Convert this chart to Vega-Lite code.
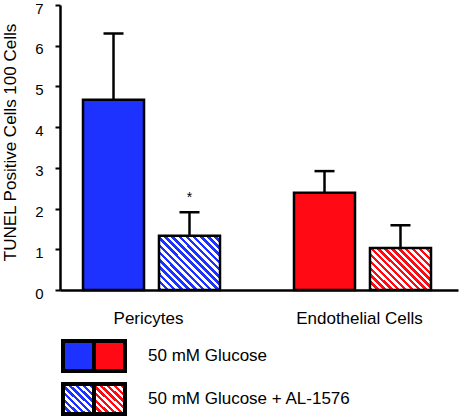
{
  "$schema": "https://vega.github.io/schema/vega-lite/v6.json",
  "autosize": {"type": "none"},
  "padding": {"left": 60, "top": 5, "right": 2, "bottom": 126},
  "width": 398,
  "height": 285,
  "datasets": {
    "bars": [
      {"cell": "Pericytes", "treatment": "50 mM Glucose", "mean": 4.67, "upper": 6.3, "note": ""},
      {"cell": "Pericytes", "treatment": "50 mM Glucose + AL-1576", "mean": 1.33, "upper": 1.91, "note": "*"},
      {"cell": "Endothelial Cells", "treatment": "50 mM Glucose", "mean": 2.39, "upper": 2.92, "note": ""},
      {"cell": "Endothelial Cells", "treatment": "50 mM Glucose + AL-1576", "mean": 1.03, "upper": 1.59, "note": ""}
    ]
  },
  "data": {"name": "bars"},
  "config": {
    "view": {"stroke": null},
    "font": "Liberation Sans",
    "axis": {"grid": false}
  },
  "resolve": {"scale": {"x": "independent", "y": "independent"}},
  "layer": [
    {
      "encoding": {
        "x": {
          "field": "cell", "type": "nominal", "sort": ["Pericytes", "Endothelial Cells"],
          "scale": {"paddingInner": 0.3507, "paddingOuter": 0.1185, "align": 0.46},
          "axis": {"title": null, "labelAngle": 0, "ticks": false, "labelPadding": 20, "labelFontSize": 17, "labelColor": "black", "labelOffset": -3, "domainColor": "black", "domainWidth": 2.5}
        },
        "xOffset": {
          "field": "treatment", "type": "nominal", "sort": ["50 mM Glucose", "50 mM Glucose + AL-1576"],
          "scale": {"paddingInner": 0.197, "paddingOuter": 0}
        },
        "y": {
          "field": "mean", "type": "quantitative", "title": "TUNEL Positive Cells 100 Cells",
          "scale": {"domain": [0, 7], "nice": false},
          "axis": {"values": [0, 1, 2, 3, 4, 5, 6, 7], "format": "d", "tickSize": 5, "tickWidth": 2, "tickColor": "black", "domainColor": "black", "domainWidth": 2.5, "labelFontSize": 15, "labelColor": "black", "labelPadding": 12, "labelOffset": 3, "titleFontSize": 17, "titleFontWeight": "normal", "titleColor": "black", "titleX": -50, "titleY": 137, "titleBaseline": "middle"}
        }
      },
      "layer": [
        {
          "transform": [{"filter": "datum.treatment == '50 mM Glucose'"}],
          "mark": {"type": "bar", "stroke": "black", "strokeWidth": 2.5},
          "encoding": {
            "color": {"field": "cell", "type": "nominal", "scale": {"domain": ["Pericytes", "Endothelial Cells"], "range": ["#1E32FF", "#FF0A14"]}, "legend": null}
          }
        },
        {
          "transform": [{"filter": "datum.treatment != '50 mM Glucose' && datum.cell == 'Pericytes'"}],
          "mark": {"type": "bar", "stroke": "black", "strokeWidth": 2.5,
            "fill": {"gradient": "linear", "x1": 0, "y1": 1, "x2": 1.057, "y2": 0.064, "stops": [
              {"offset": 0, "color": "#1E32FF"}, {"offset": 0.03125, "color": "#1E32FF"}, {"offset": 0.03125, "color": "#ffffff"}, {"offset": 0.0625, "color": "#ffffff"},
              {"offset": 0.0625, "color": "#1E32FF"}, {"offset": 0.09375, "color": "#1E32FF"}, {"offset": 0.09375, "color": "#ffffff"}, {"offset": 0.125, "color": "#ffffff"},
              {"offset": 0.125, "color": "#1E32FF"}, {"offset": 0.15625, "color": "#1E32FF"}, {"offset": 0.15625, "color": "#ffffff"}, {"offset": 0.1875, "color": "#ffffff"},
              {"offset": 0.1875, "color": "#1E32FF"}, {"offset": 0.21875, "color": "#1E32FF"}, {"offset": 0.21875, "color": "#ffffff"}, {"offset": 0.25, "color": "#ffffff"},
              {"offset": 0.25, "color": "#1E32FF"}, {"offset": 0.28125, "color": "#1E32FF"}, {"offset": 0.28125, "color": "#ffffff"}, {"offset": 0.3125, "color": "#ffffff"},
              {"offset": 0.3125, "color": "#1E32FF"}, {"offset": 0.34375, "color": "#1E32FF"}, {"offset": 0.34375, "color": "#ffffff"}, {"offset": 0.375, "color": "#ffffff"},
              {"offset": 0.375, "color": "#1E32FF"}, {"offset": 0.40625, "color": "#1E32FF"}, {"offset": 0.40625, "color": "#ffffff"}, {"offset": 0.4375, "color": "#ffffff"},
              {"offset": 0.4375, "color": "#1E32FF"}, {"offset": 0.46875, "color": "#1E32FF"}, {"offset": 0.46875, "color": "#ffffff"}, {"offset": 0.5, "color": "#ffffff"},
              {"offset": 0.5, "color": "#1E32FF"}, {"offset": 0.53125, "color": "#1E32FF"}, {"offset": 0.53125, "color": "#ffffff"}, {"offset": 0.5625, "color": "#ffffff"},
              {"offset": 0.5625, "color": "#1E32FF"}, {"offset": 0.59375, "color": "#1E32FF"}, {"offset": 0.59375, "color": "#ffffff"}, {"offset": 0.625, "color": "#ffffff"},
              {"offset": 0.625, "color": "#1E32FF"}, {"offset": 0.65625, "color": "#1E32FF"}, {"offset": 0.65625, "color": "#ffffff"}, {"offset": 0.6875, "color": "#ffffff"},
              {"offset": 0.6875, "color": "#1E32FF"}, {"offset": 0.71875, "color": "#1E32FF"}, {"offset": 0.71875, "color": "#ffffff"}, {"offset": 0.75, "color": "#ffffff"},
              {"offset": 0.75, "color": "#1E32FF"}, {"offset": 0.78125, "color": "#1E32FF"}, {"offset": 0.78125, "color": "#ffffff"}, {"offset": 0.8125, "color": "#ffffff"},
              {"offset": 0.8125, "color": "#1E32FF"}, {"offset": 0.84375, "color": "#1E32FF"}, {"offset": 0.84375, "color": "#ffffff"}, {"offset": 0.875, "color": "#ffffff"},
              {"offset": 0.875, "color": "#1E32FF"}, {"offset": 0.90625, "color": "#1E32FF"}, {"offset": 0.90625, "color": "#ffffff"}, {"offset": 0.9375, "color": "#ffffff"},
              {"offset": 0.9375, "color": "#1E32FF"}, {"offset": 0.96875, "color": "#1E32FF"}, {"offset": 0.96875, "color": "#ffffff"}, {"offset": 1, "color": "#ffffff"}
            ]}
          }
        },
        {
          "transform": [{"filter": "datum.treatment != '50 mM Glucose' && datum.cell != 'Pericytes'"}],
          "mark": {"type": "bar", "stroke": "black", "strokeWidth": 2.5,
            "fill": {"gradient": "linear", "x1": 0, "y1": 1, "x2": 1.145, "y2": 0.21, "stops": [
              {"offset": 0, "color": "#FF0A14"}, {"offset": 0.0333, "color": "#FF0A14"}, {"offset": 0.0333, "color": "#ffffff"}, {"offset": 0.0667, "color": "#ffffff"},
              {"offset": 0.0667, "color": "#FF0A14"}, {"offset": 0.1, "color": "#FF0A14"}, {"offset": 0.1, "color": "#ffffff"}, {"offset": 0.1333, "color": "#ffffff"},
              {"offset": 0.1333, "color": "#FF0A14"}, {"offset": 0.1667, "color": "#FF0A14"}, {"offset": 0.1667, "color": "#ffffff"}, {"offset": 0.2, "color": "#ffffff"},
              {"offset": 0.2, "color": "#FF0A14"}, {"offset": 0.2333, "color": "#FF0A14"}, {"offset": 0.2333, "color": "#ffffff"}, {"offset": 0.2667, "color": "#ffffff"},
              {"offset": 0.2667, "color": "#FF0A14"}, {"offset": 0.3, "color": "#FF0A14"}, {"offset": 0.3, "color": "#ffffff"}, {"offset": 0.3333, "color": "#ffffff"},
              {"offset": 0.3333, "color": "#FF0A14"}, {"offset": 0.3667, "color": "#FF0A14"}, {"offset": 0.3667, "color": "#ffffff"}, {"offset": 0.4, "color": "#ffffff"},
              {"offset": 0.4, "color": "#FF0A14"}, {"offset": 0.4333, "color": "#FF0A14"}, {"offset": 0.4333, "color": "#ffffff"}, {"offset": 0.4667, "color": "#ffffff"},
              {"offset": 0.4667, "color": "#FF0A14"}, {"offset": 0.5, "color": "#FF0A14"}, {"offset": 0.5, "color": "#ffffff"}, {"offset": 0.5333, "color": "#ffffff"},
              {"offset": 0.5333, "color": "#FF0A14"}, {"offset": 0.5667, "color": "#FF0A14"}, {"offset": 0.5667, "color": "#ffffff"}, {"offset": 0.6, "color": "#ffffff"},
              {"offset": 0.6, "color": "#FF0A14"}, {"offset": 0.6333, "color": "#FF0A14"}, {"offset": 0.6333, "color": "#ffffff"}, {"offset": 0.6667, "color": "#ffffff"},
              {"offset": 0.6667, "color": "#FF0A14"}, {"offset": 0.7, "color": "#FF0A14"}, {"offset": 0.7, "color": "#ffffff"}, {"offset": 0.7333, "color": "#ffffff"},
              {"offset": 0.7333, "color": "#FF0A14"}, {"offset": 0.7667, "color": "#FF0A14"}, {"offset": 0.7667, "color": "#ffffff"}, {"offset": 0.8, "color": "#ffffff"},
              {"offset": 0.8, "color": "#FF0A14"}, {"offset": 0.8333, "color": "#FF0A14"}, {"offset": 0.8333, "color": "#ffffff"}, {"offset": 0.8667, "color": "#ffffff"},
              {"offset": 0.8667, "color": "#FF0A14"}, {"offset": 0.9, "color": "#FF0A14"}, {"offset": 0.9, "color": "#ffffff"}, {"offset": 0.9333, "color": "#ffffff"},
              {"offset": 0.9333, "color": "#FF0A14"}, {"offset": 0.9667, "color": "#FF0A14"}, {"offset": 0.9667, "color": "#ffffff"}, {"offset": 1, "color": "#ffffff"}
            ]}
          }
        },
        {
          "mark": {"type": "rule", "color": "black", "strokeWidth": 2.5},
          "encoding": {"y2": {"field": "upper"}}
        },
        {
          "mark": {"type": "tick", "orient": "horizontal", "size": 20, "thickness": 2.5, "color": "black", "opacity": 1},
          "encoding": {"y": {"field": "upper", "type": "quantitative", "title": "TUNEL Positive Cells 100 Cells"}}
        },
        {
          "mark": {"type": "text", "dy": -10, "fontSize": 14, "baseline": "alphabetic", "color": "black"},
          "encoding": {"y": {"field": "upper", "type": "quantitative", "title": "TUNEL Positive Cells 100 Cells"}, "text": {"field": "note"}}
        }
      ]
    },
    {
      "encoding": {
        "x": {"field": "cell", "type": "nominal", "sort": ["Pericytes", "Endothelial Cells"], "scale": {"range": [3, 65], "paddingInner": 0, "paddingOuter": 0}, "axis": null},
        "y": {"field": "treatment", "type": "nominal", "sort": ["50 mM Glucose", "50 mM Glucose + AL-1576"], "scale": {"range": [329.5, 415.5], "paddingInner": 0.302, "paddingOuter": 0.151}, "axis": null}
      },
      "layer": [
        {
          "transform": [{"filter": "datum.treatment == '50 mM Glucose'"}],
          "mark": {"type": "rect", "stroke": "black", "strokeWidth": 4},
          "encoding": {"color": {"field": "cell", "type": "nominal", "legend": null}}
        },
        {
          "transform": [{"filter": "datum.treatment != '50 mM Glucose' && datum.cell == 'Pericytes'"}],
          "mark": {"type": "rect", "stroke": "black", "strokeWidth": 4,
            "fill": {"gradient": "linear", "x1": 0, "y1": 1, "x2": 1, "y2": 0, "stops": [
              {"offset": 0, "color": "#1E32FF"}, {"offset": 0.0556, "color": "#1E32FF"}, {"offset": 0.0556, "color": "#ffffff"}, {"offset": 0.1111, "color": "#ffffff"},
              {"offset": 0.1111, "color": "#1E32FF"}, {"offset": 0.1667, "color": "#1E32FF"}, {"offset": 0.1667, "color": "#ffffff"}, {"offset": 0.2222, "color": "#ffffff"},
              {"offset": 0.2222, "color": "#1E32FF"}, {"offset": 0.2778, "color": "#1E32FF"}, {"offset": 0.2778, "color": "#ffffff"}, {"offset": 0.3333, "color": "#ffffff"},
              {"offset": 0.3333, "color": "#1E32FF"}, {"offset": 0.3889, "color": "#1E32FF"}, {"offset": 0.3889, "color": "#ffffff"}, {"offset": 0.4444, "color": "#ffffff"},
              {"offset": 0.4444, "color": "#1E32FF"}, {"offset": 0.5, "color": "#1E32FF"}, {"offset": 0.5, "color": "#ffffff"}, {"offset": 0.5556, "color": "#ffffff"},
              {"offset": 0.5556, "color": "#1E32FF"}, {"offset": 0.6111, "color": "#1E32FF"}, {"offset": 0.6111, "color": "#ffffff"}, {"offset": 0.6667, "color": "#ffffff"},
              {"offset": 0.6667, "color": "#1E32FF"}, {"offset": 0.7222, "color": "#1E32FF"}, {"offset": 0.7222, "color": "#ffffff"}, {"offset": 0.7778, "color": "#ffffff"},
              {"offset": 0.7778, "color": "#1E32FF"}, {"offset": 0.8333, "color": "#1E32FF"}, {"offset": 0.8333, "color": "#ffffff"}, {"offset": 0.8889, "color": "#ffffff"},
              {"offset": 0.8889, "color": "#1E32FF"}, {"offset": 0.9444, "color": "#1E32FF"}, {"offset": 0.9444, "color": "#ffffff"}, {"offset": 1, "color": "#ffffff"}
            ]}
          }
        },
        {
          "transform": [{"filter": "datum.treatment != '50 mM Glucose' && datum.cell != 'Pericytes'"}],
          "mark": {"type": "rect", "stroke": "black", "strokeWidth": 4,
            "fill": {"gradient": "linear", "x1": 0, "y1": 1, "x2": 1, "y2": 0, "stops": [
              {"offset": 0, "color": "#FF0A14"}, {"offset": 0.0556, "color": "#FF0A14"}, {"offset": 0.0556, "color": "#ffffff"}, {"offset": 0.1111, "color": "#ffffff"},
              {"offset": 0.1111, "color": "#FF0A14"}, {"offset": 0.1667, "color": "#FF0A14"}, {"offset": 0.1667, "color": "#ffffff"}, {"offset": 0.2222, "color": "#ffffff"},
              {"offset": 0.2222, "color": "#FF0A14"}, {"offset": 0.2778, "color": "#FF0A14"}, {"offset": 0.2778, "color": "#ffffff"}, {"offset": 0.3333, "color": "#ffffff"},
              {"offset": 0.3333, "color": "#FF0A14"}, {"offset": 0.3889, "color": "#FF0A14"}, {"offset": 0.3889, "color": "#ffffff"}, {"offset": 0.4444, "color": "#ffffff"},
              {"offset": 0.4444, "color": "#FF0A14"}, {"offset": 0.5, "color": "#FF0A14"}, {"offset": 0.5, "color": "#ffffff"}, {"offset": 0.5556, "color": "#ffffff"},
              {"offset": 0.5556, "color": "#FF0A14"}, {"offset": 0.6111, "color": "#FF0A14"}, {"offset": 0.6111, "color": "#ffffff"}, {"offset": 0.6667, "color": "#ffffff"},
              {"offset": 0.6667, "color": "#FF0A14"}, {"offset": 0.7222, "color": "#FF0A14"}, {"offset": 0.7222, "color": "#ffffff"}, {"offset": 0.7778, "color": "#ffffff"},
              {"offset": 0.7778, "color": "#FF0A14"}, {"offset": 0.8333, "color": "#FF0A14"}, {"offset": 0.8333, "color": "#ffffff"}, {"offset": 0.8889, "color": "#ffffff"},
              {"offset": 0.8889, "color": "#FF0A14"}, {"offset": 0.9444, "color": "#FF0A14"}, {"offset": 0.9444, "color": "#ffffff"}, {"offset": 1, "color": "#ffffff"}
            ]}
          }
        },
        {
          "transform": [{"filter": "datum.cell == 'Pericytes'"}],
          "mark": {"type": "text", "align": "left", "baseline": "middle", "fontSize": 17, "color": "black"},
          "encoding": {"x": {"value": 88}, "text": {"field": "treatment"}}
        }
      ]
    }
  ]
}
